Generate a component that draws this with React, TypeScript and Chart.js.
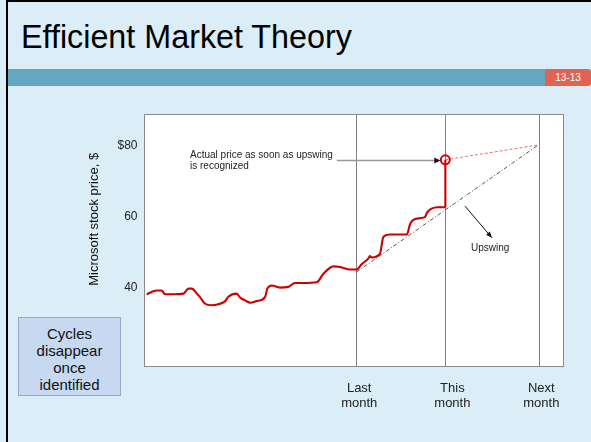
import React, { useEffect, useRef } from "react";
import { Chart, registerables } from "chart.js";

Chart.register(...registerables);

const FONT = '"Liberation Sans", Arial, sans-serif';

// x axis: arbitrary time units 0..100 across the plot
const monthLineX = [50.55, 71.8, 94.27];
const monthLabelX = [51.24, 73.48, 94.7];
const monthLabels = [["Last", "month"], ["This", "month"], ["Next", "month"]];

const yTicks = [40, 60, 80];
const yTickLabels = ["40", "60", "$80"];
const yTitle = "Microsoft stock price, $";

// Microsoft price path (red)
const priceX = [0.5, 2.9, 4.1, 4.9, 6.9, 9.3, 10.5, 11.3, 12.5, 13.2, 14.4, 16.0, 17.6, 19.2, 20.0, 22.0, 22.8, 24.0, 25.3, 26.8, 28.8, 29.3, 30.4, 32.3, 34.3, 35.9, 37.9, 41.1, 42.7, 45.1, 46.7, 49.1, 50.6, 51.8, 53.4, 53.8, 54.2, 56.2, 57.0, 58.6, 62.6, 63.4, 64.6, 66.9, 67.5, 68.5, 69.9, 71.8];
const priceY = [38.1, 39.2, 39.2, 38.1, 38.1, 38.3, 39.7, 39.7, 38.3, 37.4, 35.5, 35.0, 35.3, 36.1, 37.4, 38.3, 37.2, 36.4, 35.7, 36.2, 37.4, 39.7, 40.6, 40.0, 40.2, 41.3, 41.3, 41.5, 43.9, 46.0, 45.8, 45.1, 45.1, 46.6, 48.2, 48.9, 48.5, 49.6, 54.3, 55.0, 55.0, 58.0, 59.4, 59.9, 61.3, 62.3, 62.7, 62.7];

// jump when upswing is recognized
const jumpX = [71.8, 71.8];
const jumpY = [62.7, 76.1];

// actual price marker
const markerX = [71.8];
const markerY = [76.1];

// expected path after jump (red dashed)
const afterX = [71.8, 94.0];
const afterY = [76.1, 80.3];

// upswing trend (dash-dot)
const trendX = [50.6, 94.0];
const trendY = [44.4, 80.3];

// annotations (data coordinates)
const noteLines = ["Actual price as soon as upswing", "is recognized"];
const noteAt = [10.86, 77.46];
const noteArrowX = [45.9, 70.6];
const noteArrowY = 76.1;
const upswingLabel = "Upswing";
const upswingArrowX = [76.5, 82.9];
const upswingArrowY = [63.0, 54.1];
const upswingLabelAt = [82.5, 51.2];

const pts = (xs: number[], ys: number[]) => xs.map((x, i) => ({ x, y: ys[i] }));

function arrowHead(ctx: CanvasRenderingContext2D, x1: number, y1: number, x2: number, y2: number, len: number, wid: number) {
  const a = Math.atan2(y2 - y1, x2 - x1);
  ctx.beginPath();
  ctx.moveTo(x2, y2);
  ctx.lineTo(x2 - len * Math.cos(a) + wid * Math.sin(a), y2 - len * Math.sin(a) - wid * Math.cos(a));
  ctx.lineTo(x2 - len * Math.cos(a) - wid * Math.sin(a), y2 - len * Math.sin(a) + wid * Math.cos(a));
  ctx.closePath();
  ctx.fill();
}

const framePlugin = {
  id: "frame",
  beforeDraw(chart: any) {
    const { ctx, chartArea: a } = chart;
    ctx.save();
    ctx.fillStyle = "#ffffff";
    ctx.fillRect(a.left, a.top, a.right - a.left, a.bottom - a.top);
    ctx.restore();
  },
  beforeDatasetsDraw(chart: any) {
    const { ctx, chartArea: a } = chart;
    ctx.save();
    ctx.strokeStyle = "#8a8a8a";
    ctx.lineWidth = 1;
    ctx.strokeRect(Math.floor(a.left) + 0.5, Math.floor(a.top) + 0.5, Math.round(a.right - a.left), Math.round(a.bottom - a.top));
    ctx.restore();
  },
  afterDatasetsDraw(chart: any) {
    const { ctx } = chart;
    const xs = chart.scales.x;
    const ys = chart.scales.y;
    const px = (v: number) => xs.getPixelForValue(v);
    const py = (v: number) => ys.getPixelForValue(v);
    ctx.save();
    // note text
    ctx.fillStyle = "#222";
    ctx.font = `10px ${FONT}`;
    ctx.textAlign = "left";
    ctx.textBaseline = "middle";
    ctx.fillText(noteLines[0], px(noteAt[0]), py(noteAt[1]));
    ctx.fillText(noteLines[1], px(noteAt[0]), py(noteAt[1]) + 11.4);
    // note arrow
    const ay = Math.round(py(noteArrowY)) + 0.5;
    const ax1 = px(noteArrowX[0]);
    const ax2 = px(noteArrowX[1]);
    ctx.strokeStyle = "#999";
    ctx.lineWidth = 1.5;
    ctx.beginPath();
    ctx.moveTo(ax1, ay);
    ctx.lineTo(ax2 - 5, ay);
    ctx.stroke();
    ctx.fillStyle = "#111";
    arrowHead(ctx, ax1, ay, ax2, ay, 6, 3);
    // upswing arrow
    const ux1 = px(upswingArrowX[0]), uy1 = py(upswingArrowY[0]);
    const ux2 = px(upswingArrowX[1]), uy2 = py(upswingArrowY[1]);
    ctx.strokeStyle = "#111";
    ctx.lineWidth = 1;
    ctx.beginPath();
    ctx.moveTo(ux1, uy1);
    ctx.lineTo(ux2, uy2);
    ctx.stroke();
    arrowHead(ctx, ux1, uy1, ux2, uy2, 6, 2.5);
    ctx.fillStyle = "#222";
    ctx.textAlign = "center";
    ctx.fillText(upswingLabel, px(upswingLabelAt[0]), py(upswingLabelAt[1]));
    // y axis title
    ctx.translate(ys.left + 14.3, py(59.3));
    ctx.rotate(-Math.PI / 2);
    ctx.font = `13px ${FONT}`;
    ctx.fillStyle = "#111";
    ctx.textAlign = "center";
    ctx.textBaseline = "middle";
    ctx.fillText(yTitle, 0, 0);
    ctx.restore();
  },
};

export default function App() {
  const ref = useRef<HTMLCanvasElement>(null);
  useEffect(() => {
    const chart = new Chart(ref.current as HTMLCanvasElement, {
      type: "line",
      data: {
        datasets: [
          {
            data: pts(markerX, markerY),
            borderColor: "#e00000",
            backgroundColor: "rgba(255,255,255,0)",
            pointRadius: 4.5,
            pointBorderWidth: 2,
            showLine: false,
            order: 0,
          },
          {
            data: pts(priceX, priceY),
            borderColor: "#cc0000",
            borderWidth: 2.1,
            pointRadius: 0,
            cubicInterpolationMode: "monotone",
            order: 1,
          },
          {
            data: pts(jumpX, jumpY),
            borderColor: "#cc0000",
            borderWidth: 2.1,
            pointRadius: 0,
            tension: 0,
            order: 2,
          },
          {
            data: pts(afterX, afterY),
            borderColor: "#e87070",
            borderWidth: 1,
            borderDash: [3, 2],
            pointRadius: 0,
            tension: 0,
            order: 3,
          },
          {
            data: pts(trendX, trendY),
            borderColor: "#555",
            borderWidth: 1,
            borderDash: [4, 2, 1, 2],
            pointRadius: 0,
            tension: 0,
            order: 4,
          },
        ],
      },
      options: {
        responsive: false,
        animation: false,
        devicePixelRatio: 1,
        layout: { padding: { left: 80, right: 27.5, top: 114.5, bottom: 0 } },
        plugins: { legend: { display: false }, tooltip: { enabled: false } },
        scales: {
          x: {
            type: "linear",
            position: "bottom",
            min: 0,
            max: 100,
            grid: { color: "#808080", lineWidth: 1, drawTicks: false },
            border: { display: false },
            ticks: { display: false },
            afterBuildTicks: (s: any) => {
              s.ticks = monthLineX.map((v) => ({ value: v }));
            },
            afterFit: (s: any) => {
              s.height = 0;
            },
          },
          x2: {
            type: "linear",
            position: "bottom",
            min: 0,
            max: 100,
            grid: { display: false, drawTicks: false },
            border: { display: false },
            ticks: {
              autoSkip: false,
              maxRotation: 0,
              padding: 15,
              color: "#222",
              font: { family: FONT, size: 13, lineHeight: 1.1 },
              callback: (_v: any, i: number) => monthLabels[i],
            },
            afterBuildTicks: (s: any) => {
              s.ticks = monthLabelX.map((v) => ({ value: v }));
            },
            afterFit: (s: any) => {
              s.height = 75.5;
            },
          },
          y: {
            type: "linear",
            min: 17.71,
            max: 88.9,
            grid: { display: false, drawTicks: false },
            border: { display: false },
            ticks: {
              padding: 7,
              color: "#222",
              font: { family: FONT, size: 12 },
              callback: (_v: any, i: number) => yTickLabels[i],
            },
            afterBuildTicks: (s: any) => {
              s.ticks = yTicks.map((v) => ({ value: v }));
            },
            afterFit: (s: any) => {
              s.width = 64.5;
            },
          },
        },
      } as any,
      plugins: [framePlugin],
    });
    return () => chart.destroy();
  }, []);

  return (
    <div
      style={{
        position: "fixed",
        left: 0,
        top: 0,
        width: 591,
        height: 442,
        background: "#dbeef8",
        overflow: "hidden",
        fontFamily: FONT,
      }}
    >
      <div style={{ position: "absolute", left: 6, top: 0, width: 2, height: 442, background: "#000" }} />
      <div style={{ position: "absolute", left: 6, top: 0, width: 585, height: 2, background: "#000" }} />
      <div
        style={{
          position: "absolute",
          left: 21,
          top: 21.2,
          fontSize: 32.3,
          lineHeight: "32px",
          color: "#000",
          whiteSpace: "nowrap",
        }}
      >
        Efficient Market Theory
      </div>
      <div style={{ position: "absolute", left: 8, top: 69, width: 537, height: 17, background: "#63a8c0" }} />
      <div
        style={{
          position: "absolute",
          left: 545,
          top: 69,
          width: 46,
          height: 17,
          background: "#e06453",
          borderRadius: "0 3px 3px 0",
          color: "#fff",
          fontSize: 10,
          lineHeight: "17px",
          textAlign: "center",
        }}
      >
        13-13
      </div>
      <div
        style={{
          position: "absolute",
          left: 18,
          top: 317,
          width: 101,
          height: 70,
          paddingTop: 6.5,
          background: "#c6d9f1",
          border: "1px solid #93a9c5",
          color: "#111",
          fontSize: 15,
          lineHeight: "17px",
          textAlign: "center",
        }}
      >
        Cycles
        <br />
        disappear
        <br />
        once
        <br />
        identified
      </div>
      <canvas
        ref={ref}
        width={591}
        height={442}
        style={{ position: "absolute", left: 0, top: 0, width: 591, height: 442 }}
      />
    </div>
  );
}
